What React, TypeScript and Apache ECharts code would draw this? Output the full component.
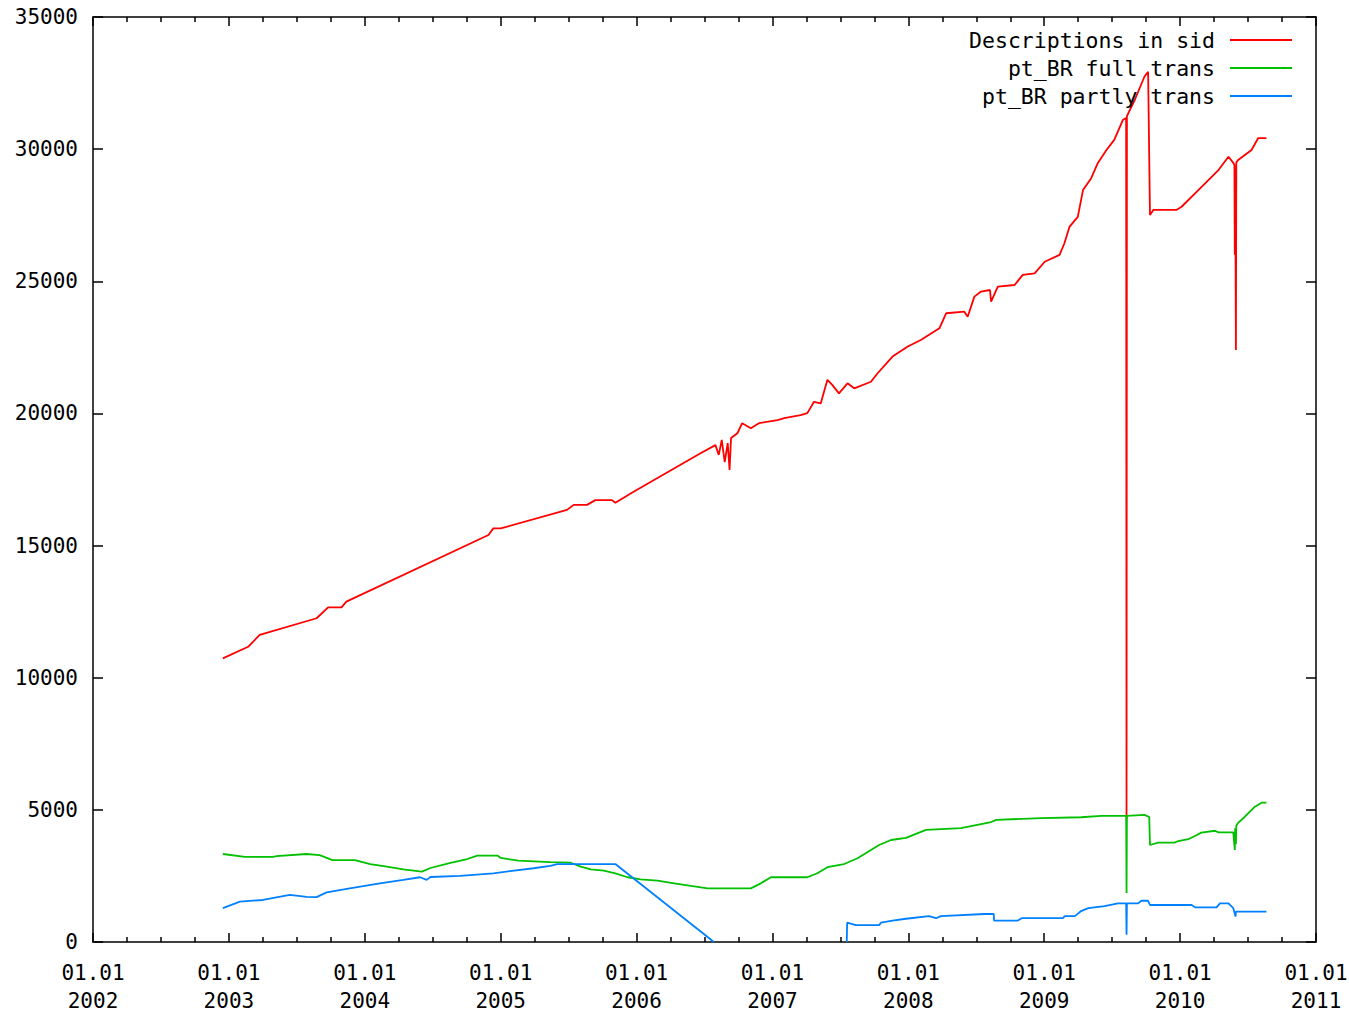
import React, { useEffect, useRef } from 'react';
import * as echarts from 'echarts';

const DAY = 86400000;
const YEAR = 365.25 * DAY;

const seriesNames = ['Descriptions in sid', 'pt_BR full trans', 'pt_BR partly trans'];
const seriesColors = ['#ff0000', '#00c000', '#0080ff'];

const yTicks = { min: 0, max: 35000, step: 5000 };
const xYears = { first: 2002, last: 2011 };

const descriptionsInSid = [
  ['2002-12-16', 10730], ['2003-02-22', 11170], ['2003-03-25', 11620], ['2003-08-25', 12250],
  ['2003-09-25', 12660], ['2003-10-31', 12660], ['2003-11-13', 12880], ['2004-11-29', 15400],
  ['2004-12-12', 15650], ['2005-01-01', 15650], ['2005-06-28', 16350], ['2005-07-16', 16540],
  ['2005-08-21', 16540], ['2005-09-12', 16720], ['2005-10-27', 16720], ['2005-11-05', 16620],
  ['2005-12-24', 17040], ['2006-06-22', 18490], ['2006-08-01', 18800], ['2006-08-10', 18430],
  ['2006-08-18', 19000], ['2006-08-26', 18160], ['2006-09-03', 18880], ['2006-09-08', 17860],
  ['2006-09-12', 19070], ['2006-09-29', 19250], ['2006-10-12', 19630], ['2006-11-04', 19440],
  ['2006-11-26', 19630], ['2007-01-15', 19750], ['2007-02-02', 19820], ['2007-03-18', 19940],
  ['2007-04-05', 20010], ['2007-04-23', 20440], ['2007-05-11', 20380], ['2007-05-29', 21270],
  ['2007-06-11', 21080], ['2007-06-29', 20760], ['2007-07-22', 21140], ['2007-08-09', 20950],
  ['2007-09-23', 21200], ['2007-10-11', 21520], ['2007-11-20', 22150], ['2007-12-31', 22530],
  ['2008-02-04', 22780], ['2008-03-25', 23220], ['2008-04-12', 23790], ['2008-05-31', 23850],
  ['2008-06-09', 23660], ['2008-06-27', 24420], ['2008-07-15', 24610], ['2008-08-08', 24670],
  ['2008-08-11', 24230], ['2008-08-29', 24800], ['2008-10-13', 24860], ['2008-11-04', 25240],
  ['2008-12-06', 25300], ['2009-01-02', 25740], ['2009-02-11', 26000], ['2009-02-24', 26440],
  ['2009-03-10', 27070], ['2009-04-01', 27440], ['2009-04-15', 28450], ['2009-05-07', 28900],
  ['2009-05-25', 29480], ['2009-06-17', 29970], ['2009-07-08', 30350], ['2009-07-31', 31100],
  ['2009-08-09', 31180], ['2009-08-10', 4700], ['2009-08-11', 31250], ['2009-09-01', 31860],
  ['2009-09-27', 32740], ['2009-10-07', 32930], ['2009-10-12', 27510], ['2009-10-21', 27700],
  ['2009-12-22', 27700], ['2010-01-05', 27820], ['2010-02-19', 28450], ['2010-04-14', 29210],
  ['2010-05-11', 29710], ['2010-05-24', 29480], ['2010-05-27', 29400], ['2010-05-28', 26000],
  ['2010-05-29', 29300], ['2010-05-30', 26000], ['2010-05-31', 22400], ['2010-06-01', 29500],
  ['2010-06-06', 29590], ['2010-07-12', 29970], ['2010-07-30', 30420], ['2010-08-21', 30420],
];

const ptBrFullTrans = [
  ['2002-12-16', 3330], ['2003-02-13', 3220], ['2003-05-01', 3220], ['2003-05-09', 3250],
  ['2003-07-29', 3330], ['2003-09-02', 3290], ['2003-10-07', 3100], ['2003-12-06', 3100],
  ['2004-01-16', 2950], ['2004-03-01', 2850], ['2004-04-14', 2750], ['2004-06-03', 2660],
  ['2004-06-26', 2800], ['2004-08-19', 2990], ['2004-10-03', 3140], ['2004-10-30', 3270],
  ['2004-12-23', 3270], ['2005-01-01', 3180], ['2005-02-17', 3080], ['2005-05-14', 3020],
  ['2005-07-08', 3000], ['2005-08-04', 2850], ['2005-08-31', 2750], ['2005-10-05', 2700],
  ['2005-11-05', 2600], ['2005-12-08', 2450], ['2006-01-12', 2370], ['2006-02-26', 2320],
  ['2006-04-12', 2220], ['2006-05-27', 2120], ['2006-07-11', 2030], ['2006-11-04', 2030],
  ['2006-12-01', 2220], ['2006-12-28', 2450], ['2007-04-05', 2450], ['2007-05-02', 2600],
  ['2007-05-29', 2830], ['2007-07-13', 2950], ['2007-08-18', 3170], ['2007-09-23', 3480],
  ['2007-10-15', 3670], ['2007-11-16', 3860], ['2007-12-26', 3940], ['2008-02-18', 4240],
  ['2008-05-22', 4310], ['2008-08-11', 4540], ['2008-08-25', 4620], ['2008-12-24', 4690],
  ['2009-04-10', 4720], ['2009-06-03', 4770], ['2009-08-09', 4770], ['2009-08-10', 1850],
  ['2009-08-11', 4770], ['2009-09-27', 4810], ['2009-10-10', 4730], ['2009-10-12', 3670],
  ['2009-11-03', 3760], ['2009-12-17', 3760], ['2009-12-27', 3820], ['2010-01-23', 3890],
  ['2010-02-10', 4010], ['2010-02-27', 4140], ['2010-04-05', 4210], ['2010-04-14', 4150],
  ['2010-05-24', 4150], ['2010-05-28', 3480], ['2010-05-29', 4300], ['2010-05-31', 3700],
  ['2010-06-01', 4400], ['2010-06-06', 4510], ['2010-06-24', 4740], ['2010-07-21', 5120],
  ['2010-08-08', 5270], ['2010-08-21', 5270],
];

const ptBrPartlyTrans = [
  ['2002-12-16', 1280], ['2003-01-31', 1530], ['2003-04-03', 1590], ['2003-06-14', 1780],
  ['2003-07-29', 1710], ['2003-08-25', 1700], ['2003-09-21', 1880], ['2003-11-22', 2030],
  ['2004-02-11', 2220], ['2004-04-14', 2350], ['2004-05-29', 2450], ['2004-06-16', 2350],
  ['2004-06-26', 2460], ['2004-09-14', 2500], ['2004-12-12', 2600], ['2005-03-30', 2790],
  ['2005-05-14', 2880], ['2005-06-02', 2950], ['2005-11-05', 2950], ['2006-07-28', 0],
  ['2006-07-29', null], ['2007-07-20', 0], ['2007-07-21', 730], ['2007-08-13', 640],
  ['2007-10-15', 640], ['2007-10-20', 730], ['2007-11-20', 810], ['2007-12-26', 880],
  ['2008-02-26', 980], ['2008-03-16', 900], ['2008-03-29', 980], ['2008-07-24', 1060],
  ['2008-08-18', 1060], ['2008-08-19', 810], ['2008-10-22', 810], ['2008-11-01', 900],
  ['2009-02-20', 900], ['2009-02-25', 980], ['2009-03-24', 980], ['2009-04-10', 1170],
  ['2009-04-29', 1280], ['2009-06-12', 1360], ['2009-07-18', 1460], ['2009-08-09', 1460],
  ['2009-08-10', 270], ['2009-08-11', 1460], ['2009-09-10', 1460], ['2009-09-19', 1560],
  ['2009-10-07', 1560], ['2009-10-12', 1400], ['2010-02-01', 1400], ['2010-02-10', 1310],
  ['2010-04-09', 1310], ['2010-04-18', 1460], ['2010-05-11', 1460], ['2010-05-24', 1280],
  ['2010-05-30', 960], ['2010-05-31', 1150], ['2010-06-15', 1150], ['2010-08-21', 1150],
];

const toTs = (d: string) => Date.parse(d + 'T00:00:00Z');
const conv = (arr: any[]) => arr.map(([d, v]) => [toTs(d), v === null ? '-' : v]);

export default function App() {
  const ref = useRef<HTMLDivElement>(null);
  useEffect(() => {
    const chart = echarts.init(ref.current, null, { renderer: 'svg' });
    const font = 'DejaVu Sans Mono';
    const frame = { color: '#000', width: 1.5 };
    const xMin = (xYears.first - 1970) * YEAR;
    const xMax = (xYears.last - 1970) * YEAR;
    const xBase: any = {
      type: 'value',
      min: xMin,
      max: xMax,
      interval: YEAR,
      axisLine: { show: true, onZero: false, lineStyle: frame },
      axisTick: { show: true, inside: true, length: 9, lineStyle: frame },
      minorTick: { show: true, splitNumber: 4, length: 5, lineStyle: frame },
      splitLine: { show: false },
      minorSplitLine: { show: false },
    };
    const yBase: any = {
      type: 'value',
      min: yTicks.min,
      max: yTicks.max,
      interval: yTicks.step,
      axisLine: { show: true, onZero: false, lineStyle: frame },
      axisTick: { show: true, inside: true, length: 10, lineStyle: frame },
      splitLine: { show: false },
    };
    const datasets = [descriptionsInSid, ptBrFullTrans, ptBrPartlyTrans];
    const legendTops = [29, 57, 85];
    const option: any = {
      animation: false,
      backgroundColor: '#fff',
      grid: {
        left: 93,
        right: 33,
        top: 17,
        bottom: 70,
        containLabel: false,
        outerBoundsMode: 'none',
      },
      xAxis: [
        {
          ...xBase,
          position: 'bottom',
          axisLabel: {
            show: true,
            fontFamily: font,
            fontSize: 21,
            lineHeight: 28,
            color: '#000',
            margin: 17,
            showMinLabel: true,
            showMaxLabel: true,
            formatter: (v: number) => '01.01\n' + Math.round(1970 + v / YEAR),
          },
        },
        { ...xBase, position: 'top', axisLabel: { show: false } },
      ],
      yAxis: [
        {
          ...yBase,
          position: 'left',
          axisLabel: {
            show: true,
            fontFamily: font,
            fontSize: 21,
            color: '#000',
            margin: 15,
            padding: [3, 0, 0, 0],
            formatter: (v: number) => String(Math.round(v)),
          },
        },
        { ...yBase, position: 'right', axisLabel: { show: false } },
      ],
      legend: seriesNames.map((name, i) => ({
        data: [name],
        orient: 'vertical',
        right: 57,
        top: legendTops[i],
        padding: 0,
        align: 'right',
        icon: 'rect',
        itemWidth: 62,
        itemHeight: 2,
        selectedMode: false,
        textStyle: { fontFamily: font, fontSize: 21.5, color: '#000', lineHeight: 22, padding: [0, 10, 0, 0] },
      })),
      series: datasets.map((d, i) => ({
        name: seriesNames[i],
        type: 'line',
        xAxisIndex: 0,
        yAxisIndex: 0,
        data: conv(d),
        symbol: 'none',
        showSymbol: false,
        connectNulls: false,
        clip: true,
        color: seriesColors[i],
        itemStyle: { color: seriesColors[i] },
        lineStyle: { color: seriesColors[i], width: 1.8 },
        emphasis: { disabled: true },
      })),
    };
    chart.setOption(option);
    return () => chart.dispose();
  }, []);
  return (
    <div
      ref={ref}
      style={{ position: 'absolute', left: 0, top: 0, width: 1349, height: 1012 }}
    />
  );
}
